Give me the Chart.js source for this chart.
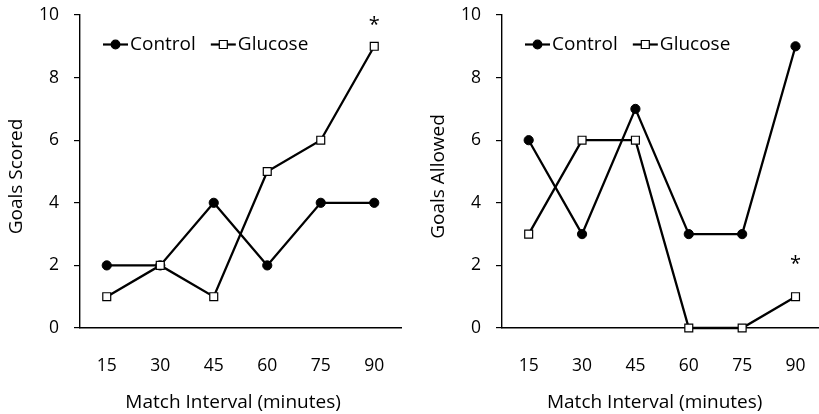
<!DOCTYPE html>
<html>
<head>
<meta charset="utf-8">
<script src="https://cdn.jsdelivr.net/npm/chart.js@4"></script>
<style>
  html, body { margin: 0; padding: 0; background: #fff; overflow: hidden; }
  #wrap { position: relative; width: 819px; height: 414px; overflow: hidden; }
  canvas { position: absolute; top: 0; }
</style>
</head>
<body>
<div id="wrap">
  <canvas id="scored" width="409" height="414" style="left:0"></canvas>
  <canvas id="allowed" width="420" height="414" style="left:409px"></canvas>
</div>
<script>
// data
const intervals = ['15', '30', '45', '60', '75', '90'];
const scoredControl = [2, 2, 4, 2, 4, 4];
const scoredGlucose = [1, 2, 1, 5, 6, 9];
const allowedControl = [6, 3, 7, 3, 3, 9];
const allowedGlucose = [3, 6, 6, 0, 0, 1];
const yTicks = [0, 2, 4, 6, 8, 10];
const scoredStar = [5, 9.68];   // [category index, y value]
const allowedStar = [5, 2.02];

const FONT = '"Open Sans", sans-serif';
Chart.defaults.font.family = FONT;
Chart.defaults.color = '#000';

// legend drawn inside the plot: line + marker + label
const innerLegend = {
    id: 'innerLegend',
    afterDraw(chart){
        const ctx = chart.ctx;
        const a = chart.chartArea;
        let x = a.left + 23;
        const y = a.top + 29.5;
        ctx.save();
        ctx.font = '19px ' + FONT;
        ctx.textBaseline = 'middle';
        for (const ds of chart.data.datasets) {
            ctx.strokeStyle = '#000';
            ctx.lineWidth = 2.2;
            ctx.beginPath();
            ctx.moveTo(x, y);
            ctx.lineTo(x + 25, y);
            ctx.stroke();
            ctx.fillStyle = ds.pointBackgroundColor;
            ctx.beginPath();
            if (ds.pointStyle === 'rect') {
                ctx.rect(x + 12.5 - 4, y - 4, 8, 8);
            } else {
                ctx.arc(x + 12.5, y, 4.3, 0, Math.PI * 2);
            }
            ctx.fill();
            ctx.lineWidth = 1.2;
            ctx.stroke();
            ctx.fillStyle = '#000';
            ctx.fillText(ds.label, x + 27, y);
            x += 27 + ctx.measureText(ds.label).width + 15;
        }
        ctx.restore();
    }
};

// significance asterisk
const starPlugin = {
    id: 'star',
    afterDraw(chart, args, opts){
        const ctx = chart.ctx;
        const px = chart.scales.x.getPixelForValue(opts.at[0]);
        const py = chart.scales.y.getPixelForValue(opts.at[1]);
        ctx.save();
        ctx.font = '20px ' + FONT;
        ctx.textAlign = 'center';
        ctx.textBaseline = 'middle';
        ctx.fillStyle = '#000';
        ctx.fillText('*', px, py);
        ctx.restore();
    }
};

function makeChart(id, yTitle, control, glucose, star, padLeft, padRight){
    const ctx = document.getElementById(id);
    return new Chart(ctx, {
        type: 'line',
        data: {
            labels: intervals,
            datasets: [{
                label: 'Control',
                data: control,
                borderColor: '#000',
                borderWidth: 2.3,
                pointStyle: 'circle',
                pointRadius: 4.6,
                pointBackgroundColor: '#000',
                pointBorderColor: '#000',
                pointBorderWidth: 1,
                tension: 0,
                clip: false,
                order: 1
            }, {
                label: 'Glucose',
                data: glucose,
                borderColor: '#000',
                borderWidth: 2.3,
                pointStyle: 'rect',
                pointRadius: 5.6,
                pointBackgroundColor: '#fff',
                pointBorderColor: '#000',
                pointBorderWidth: 1.2,
                tension: 0,
                clip: false,
                order: 0
            }]
        },
        options: {
            responsive: false,
            animation: false,
            layout: { padding: { top: 15, bottom: 0, left: padLeft, right: padRight } },
            plugins: {
                legend: { display: false },
                tooltip: { enabled: false },
                star: { at: star }
            },
            scales: {
                x: {
                    offset: true,
                    grid: { display: false, drawTicks: false },
                    border: { color: '#000', width: 1.4 },
                    ticks: { padding: 28, font: { size: 17.5 } },
                    title: {
                        display: true,
                        // trailing spaces nudge the centred title left like the original
                        text: 'Match Interval (minutes)   ',
                        font: { size: 19 },
                        padding: { top: 0, bottom: 0 }
                    },
                    afterFit(scale){
                        scale.height = 86;
                        scale.paddingLeft = 0;
                        scale.paddingRight = 0;
                    }
                },
                y: {
                    min: 0,
                    max: 10,
                    afterBuildTicks(scale){ scale.ticks = yTicks.map(v => ({ value: v })); },
                    grid: { drawOnChartArea: false, drawTicks: true, tickLength: 6, color: '#000', lineWidth: 1.2 },
                    border: { color: '#000', width: 1.4 },
                    ticks: { padding: 15, font: { size: 17.5 } },
                    title: {
                        display: true,
                        text: yTitle + '  ',
                        font: { size: 19 },
                        padding: { top: 5, bottom: 0 }
                    },
                    afterFit(scale){
                        scale.width = 80;
                        scale.paddingTop = 0;
                        scale.paddingBottom = 0;
                    }
                }
            }
        },
        plugins: [innerLegend, starPlugin]
    });
}

makeChart('scored', 'Goals Scored', scoredControl, scoredGlucose, scoredStar, 0, 8);
makeChart('allowed', 'Goals Allowed', allowedControl, allowedGlucose, allowedStar, 13, 5.5);
</script>
</body>
</html>
